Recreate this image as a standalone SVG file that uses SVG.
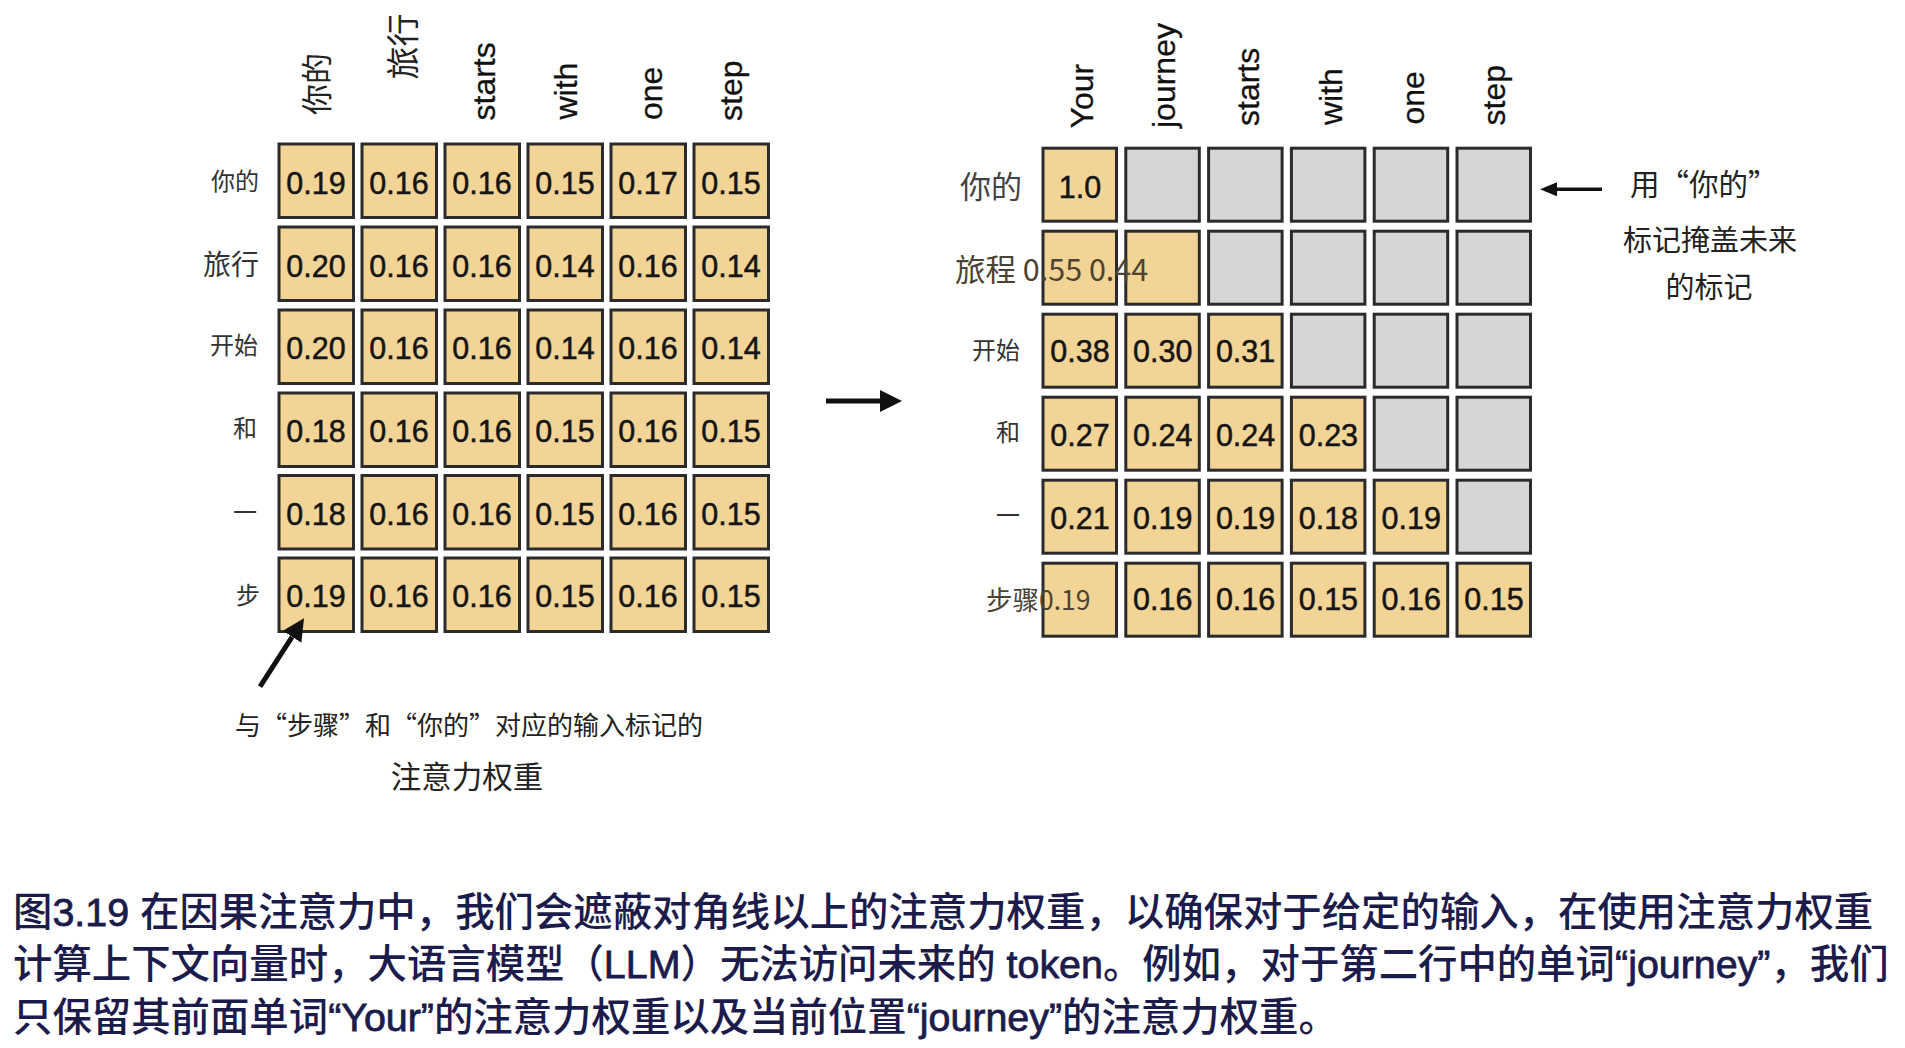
<svg xmlns="http://www.w3.org/2000/svg" width="1905" height="1048" viewBox="0 0 1905 1048">
<style>
.o{fill:#F2D496;stroke:#2b2b2b;stroke-width:3}
.g{fill:#D6D6D6;stroke:#2b2b2b;stroke-width:3}
.n{font-family:"Liberation Sans",Arial,sans-serif;font-size:30.5px;fill:#151515;stroke:#151515;stroke-width:0.5px;text-anchor:middle}
.h{font-family:"Liberation Sans",Arial,sans-serif;font-size:32px;fill:#111;stroke:#111;stroke-width:0.3px}
.hc{font-family:"Noto Sans CJK SC",sans-serif;fill:#222}
.lb{font-family:"Noto Sans CJK SC",sans-serif;font-size:24px;fill:#333;text-anchor:end}
.ov{font-family:"Noto Sans CJK SC",sans-serif;fill:#4b4333}
.an{font-family:"Noto Sans CJK SC",sans-serif;fill:#222}
.cap{font-family:"Liberation Sans","Noto Sans CJK SC",sans-serif;font-size:39.4px;font-weight:500;fill:#1c1c4c}
.lat{stroke:#1c1c4c;stroke-width:0.8px}
.ar{stroke:#111;fill:none}
</style>
<defs>
<marker id="hd" viewBox="0 0 22 22" refX="0" refY="11" markerUnits="userSpaceOnUse" markerWidth="22" markerHeight="22" orient="auto"><path d="M0,0 L22,11 L0,22 Z" fill="#111"/></marker>
<marker id="hs" viewBox="0 0 17 14" refX="0" refY="7" markerUnits="userSpaceOnUse" markerWidth="17" markerHeight="14" orient="auto"><path d="M0,0 L17,7 L0,14 Z" fill="#111"/></marker>
</defs>
<rect width="1905" height="1048" fill="#fff"/>

<g id="left-headers">
<text class="hc" font-size="31" transform="translate(328,115) rotate(-90)">你的</text>
<text class="hc" font-size="33" transform="translate(414.5,79.5) rotate(-90)">旅行</text>
<text class="h" transform="translate(495,120.5) rotate(-90)">starts</text>
<text class="h" transform="translate(577,119.5) rotate(-90)">with</text>
<text class="h" transform="translate(661.5,120) rotate(-90)">one</text>
<text class="h" transform="translate(742,121) rotate(-90)">step</text>
</g>
<g id="left-row-labels">
<text class="lb" x="259" y="190">你的</text>
<text class="lb" x="259" y="275" style="font-size:28px">旅行</text>
<text class="lb" x="258" y="354">开始</text>
<text class="lb" x="257" y="437">和</text>
<text class="lb" x="257" y="521">一</text>
<text class="lb" x="260" y="604">步</text>
</g>

<g id="left-matrix">
<g id="L11"><rect class="o" x="279" y="144" width="74.5" height="73.5"/><text class="n" x="316" y="194">0.19</text></g>
<g id="L12"><rect class="o" x="362" y="144" width="74.5" height="73.5"/><text class="n" x="399" y="194">0.16</text></g>
<g id="L13"><rect class="o" x="445" y="144" width="74.5" height="73.5"/><text class="n" x="482" y="194">0.16</text></g>
<g id="L14"><rect class="o" x="528" y="144" width="74.5" height="73.5"/><text class="n" x="565" y="194">0.15</text></g>
<g id="L15"><rect class="o" x="611" y="144" width="74.5" height="73.5"/><text class="n" x="648" y="194">0.17</text></g>
<g id="L16"><rect class="o" x="694" y="144" width="74.5" height="73.5"/><text class="n" x="731" y="194">0.15</text></g>

<g id="L21"><rect class="o" x="279" y="227" width="74.5" height="73.5"/><text class="n" x="316" y="276.5">0.20</text></g>
<g id="L22"><rect class="o" x="362" y="227" width="74.5" height="73.5"/><text class="n" x="399" y="276.5">0.16</text></g>
<g id="L23"><rect class="o" x="445" y="227" width="74.5" height="73.5"/><text class="n" x="482" y="276.5">0.16</text></g>
<g id="L24"><rect class="o" x="528" y="227" width="74.5" height="73.5"/><text class="n" x="565" y="276.5">0.14</text></g>
<g id="L25"><rect class="o" x="611" y="227" width="74.5" height="73.5"/><text class="n" x="648" y="276.5">0.16</text></g>
<g id="L26"><rect class="o" x="694" y="227" width="74.5" height="73.5"/><text class="n" x="731" y="276.5">0.14</text></g>

<g id="L31"><rect class="o" x="279" y="310" width="74.5" height="73.5"/><text class="n" x="316" y="359">0.20</text></g>
<g id="L32"><rect class="o" x="362" y="310" width="74.5" height="73.5"/><text class="n" x="399" y="359">0.16</text></g>
<g id="L33"><rect class="o" x="445" y="310" width="74.5" height="73.5"/><text class="n" x="482" y="359">0.16</text></g>
<g id="L34"><rect class="o" x="528" y="310" width="74.5" height="73.5"/><text class="n" x="565" y="359">0.14</text></g>
<g id="L35"><rect class="o" x="611" y="310" width="74.5" height="73.5"/><text class="n" x="648" y="359">0.16</text></g>
<g id="L36"><rect class="o" x="694" y="310" width="74.5" height="73.5"/><text class="n" x="731" y="359">0.14</text></g>

<g id="L41"><rect class="o" x="279" y="393" width="74.5" height="73.5"/><text class="n" x="316" y="442">0.18</text></g>
<g id="L42"><rect class="o" x="362" y="393" width="74.5" height="73.5"/><text class="n" x="399" y="442">0.16</text></g>
<g id="L43"><rect class="o" x="445" y="393" width="74.5" height="73.5"/><text class="n" x="482" y="442">0.16</text></g>
<g id="L44"><rect class="o" x="528" y="393" width="74.5" height="73.5"/><text class="n" x="565" y="442">0.15</text></g>
<g id="L45"><rect class="o" x="611" y="393" width="74.5" height="73.5"/><text class="n" x="648" y="442">0.16</text></g>
<g id="L46"><rect class="o" x="694" y="393" width="74.5" height="73.5"/><text class="n" x="731" y="442">0.15</text></g>

<g id="L51"><rect class="o" x="279" y="475.5" width="74.5" height="73.5"/><text class="n" x="316" y="524.5">0.18</text></g>
<g id="L52"><rect class="o" x="362" y="475.5" width="74.5" height="73.5"/><text class="n" x="399" y="524.5">0.16</text></g>
<g id="L53"><rect class="o" x="445" y="475.5" width="74.5" height="73.5"/><text class="n" x="482" y="524.5">0.16</text></g>
<g id="L54"><rect class="o" x="528" y="475.5" width="74.5" height="73.5"/><text class="n" x="565" y="524.5">0.15</text></g>
<g id="L55"><rect class="o" x="611" y="475.5" width="74.5" height="73.5"/><text class="n" x="648" y="524.5">0.16</text></g>
<g id="L56"><rect class="o" x="694" y="475.5" width="74.5" height="73.5"/><text class="n" x="731" y="524.5">0.15</text></g>

<g id="L61"><rect class="o" x="279" y="558" width="74.5" height="73.5"/><text class="n" x="316" y="606.5">0.19</text></g>
<g id="L62"><rect class="o" x="362" y="558" width="74.5" height="73.5"/><text class="n" x="399" y="606.5">0.16</text></g>
<g id="L63"><rect class="o" x="445" y="558" width="74.5" height="73.5"/><text class="n" x="482" y="606.5">0.16</text></g>
<g id="L64"><rect class="o" x="528" y="558" width="74.5" height="73.5"/><text class="n" x="565" y="606.5">0.15</text></g>
<g id="L65"><rect class="o" x="611" y="558" width="74.5" height="73.5"/><text class="n" x="648" y="606.5">0.16</text></g>
<g id="L66"><rect class="o" x="694" y="558" width="74.5" height="73.5"/><text class="n" x="731" y="606.5">0.15</text></g>
</g>

<g id="right-headers">
<text class="h" transform="translate(1093,128.5) rotate(-90)">Your</text>
<text class="h" transform="translate(1175,128) rotate(-90)">journey</text>
<text class="h" transform="translate(1259,126) rotate(-90)">starts</text>
<text class="h" transform="translate(1341.5,125) rotate(-90)">with</text>
<text class="h" transform="translate(1424,124.5) rotate(-90)">one</text>
<text class="h" transform="translate(1505,125.5) rotate(-90)">step</text>
</g>

<g id="right-matrix">
<g id="R11"><rect class="o" x="1043" y="148.2" width="73.5" height="73"/><text class="n" x="1080" y="198">1.0</text></g>
<g id="R12"><rect class="g" x="1125.8" y="148.2" width="73.5" height="73"/></g>
<g id="R13"><rect class="g" x="1208.6" y="148.2" width="73.5" height="73"/></g>
<g id="R14"><rect class="g" x="1291.4" y="148.2" width="73.5" height="73"/></g>
<g id="R15"><rect class="g" x="1374.2" y="148.2" width="73.5" height="73"/></g>
<g id="R16"><rect class="g" x="1457" y="148.2" width="73.5" height="73"/></g>

<g id="R21"><rect class="o" x="1043" y="231.2" width="73.5" height="73"/></g>
<g id="R22"><rect class="o" x="1125.8" y="231.2" width="73.5" height="73"/></g>
<g id="R23"><rect class="g" x="1208.6" y="231.2" width="73.5" height="73"/></g>
<g id="R24"><rect class="g" x="1291.4" y="231.2" width="73.5" height="73"/></g>
<g id="R25"><rect class="g" x="1374.2" y="231.2" width="73.5" height="73"/></g>
<g id="R26"><rect class="g" x="1457" y="231.2" width="73.5" height="73"/></g>

<g id="R31"><rect class="o" x="1043" y="314.2" width="73.5" height="73"/><text class="n" x="1080" y="362">0.38</text></g>
<g id="R32"><rect class="o" x="1125.8" y="314.2" width="73.5" height="73"/><text class="n" x="1162.8" y="362">0.30</text></g>
<g id="R33"><rect class="o" x="1208.6" y="314.2" width="73.5" height="73"/><text class="n" x="1245.6" y="362">0.31</text></g>
<g id="R34"><rect class="g" x="1291.4" y="314.2" width="73.5" height="73"/></g>
<g id="R35"><rect class="g" x="1374.2" y="314.2" width="73.5" height="73"/></g>
<g id="R36"><rect class="g" x="1457" y="314.2" width="73.5" height="73"/></g>

<g id="R41"><rect class="o" x="1043" y="397.2" width="73.5" height="73"/><text class="n" x="1080" y="446">0.27</text></g>
<g id="R42"><rect class="o" x="1125.8" y="397.2" width="73.5" height="73"/><text class="n" x="1162.8" y="446">0.24</text></g>
<g id="R43"><rect class="o" x="1208.6" y="397.2" width="73.5" height="73"/><text class="n" x="1245.6" y="446">0.24</text></g>
<g id="R44"><rect class="o" x="1291.4" y="397.2" width="73.5" height="73"/><text class="n" x="1328.4" y="446">0.23</text></g>
<g id="R45"><rect class="g" x="1374.2" y="397.2" width="73.5" height="73"/></g>
<g id="R46"><rect class="g" x="1457" y="397.2" width="73.5" height="73"/></g>

<g id="R51"><rect class="o" x="1043" y="480.2" width="73.5" height="73"/><text class="n" x="1080" y="528.5">0.21</text></g>
<g id="R52"><rect class="o" x="1125.8" y="480.2" width="73.5" height="73"/><text class="n" x="1162.8" y="528.5">0.19</text></g>
<g id="R53"><rect class="o" x="1208.6" y="480.2" width="73.5" height="73"/><text class="n" x="1245.6" y="528.5">0.19</text></g>
<g id="R54"><rect class="o" x="1291.4" y="480.2" width="73.5" height="73"/><text class="n" x="1328.4" y="528.5">0.18</text></g>
<g id="R55"><rect class="o" x="1374.2" y="480.2" width="73.5" height="73"/><text class="n" x="1411.2" y="528.5">0.19</text></g>
<g id="R56"><rect class="g" x="1457" y="480.2" width="73.5" height="73"/></g>

<g id="R61"><rect class="o" x="1043" y="563.2" width="73.5" height="73"/></g>
<g id="R62"><rect class="o" x="1125.8" y="563.2" width="73.5" height="73"/><text class="n" x="1162.8" y="610">0.16</text></g>
<g id="R63"><rect class="o" x="1208.6" y="563.2" width="73.5" height="73"/><text class="n" x="1245.6" y="610">0.16</text></g>
<g id="R64"><rect class="o" x="1291.4" y="563.2" width="73.5" height="73"/><text class="n" x="1328.4" y="610">0.15</text></g>
<g id="R65"><rect class="o" x="1374.2" y="563.2" width="73.5" height="73"/><text class="n" x="1411.2" y="610">0.16</text></g>
<g id="R66"><rect class="o" x="1457" y="563.2" width="73.5" height="73"/><text class="n" x="1494" y="610">0.15</text></g>
</g>

<g id="right-row-labels">
<text class="lb" x="1022" y="198" style="font-size:31px;fill:#444">你的</text>
<text class="ov" x="955" y="281" font-size="30.5">旅程 0.55 0.44</text>
<text class="lb" x="1020" y="359">开始</text>
<text class="lb" x="1020" y="441">和</text>
<text class="lb" x="1020" y="524">一</text>
<text class="ov" x="986" y="610" font-size="26.5">步骤0.19</text>
</g>

<g id="connectors">
<line class="ar" x1="826" y1="401" x2="880" y2="401" stroke-width="5" marker-end="url(#hd)"/>
<line class="ar" x1="1602" y1="189.3" x2="1557" y2="189.3" stroke-width="3.5" marker-end="url(#hs)"/>
<line class="ar" x1="260" y1="686.7" x2="292.1" y2="636.8" stroke-width="5" marker-end="url(#hd)"/>
</g>

<g id="annotations">
<text class="an" x="1630" y="195" font-size="29.5">用“你的”</text>
<text class="an" x="1710" y="251" font-size="29" text-anchor="middle">标记掩盖未来</text>
<text class="an" x="1709" y="298" font-size="29" text-anchor="middle">的标记</text>
<text class="an" x="469" y="735" font-size="26" text-anchor="middle">与“步骤”和“你的”对应的输入标记的</text>
<text class="an" x="467" y="788" font-size="30.5" text-anchor="middle">注意力权重</text>
</g>

<g id="caption">
<text class="cap" x="13" y="925.5">图<tspan class="lat">3.19 </tspan>在因果注意力中，我们会遮蔽对角线以上的注意力权重，以确保对于给定的输入，在使用注意力权重</text>
<text class="cap" x="13" y="977.5">计算上下文向量时，大语言模型（<tspan class="lat">LLM</tspan>）无法访问未来的<tspan class="lat"> token</tspan>。例如，对于第二行中的单词<tspan class="lat">“journey”</tspan>，我们</text>
<text class="cap" x="13" y="1030.5">只保留其前面单词<tspan class="lat">“Your”</tspan>的注意力权重以及当前位置<tspan class="lat">“journey”</tspan>的注意力权重。</text>
</g>
</svg>
